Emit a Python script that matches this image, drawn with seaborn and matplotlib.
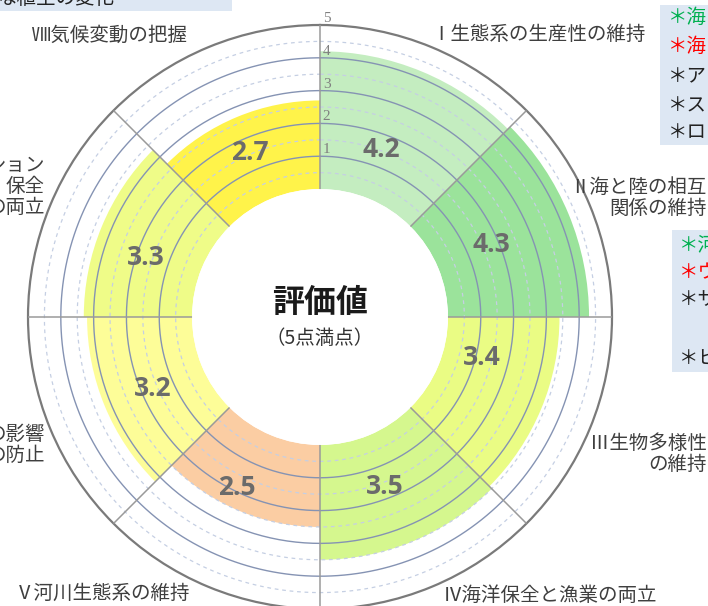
import numpy as np
import matplotlib
matplotlib.use("Agg")
import matplotlib.pyplot as plt
from matplotlib.patches import Rectangle
import seaborn as sns

# Dados do gráfico
categorias = ["Ⅰ", "Ⅱ", "Ⅲ", "Ⅳ", "Ⅴ", "Ⅵ", "Ⅶ", "Ⅷ"]
valores = [4.2, 4.3, 3.4, 3.5, 2.5, 3.2, 3.3, 2.7]
cores = ["#c4edc0", "#9be39b", "#eafc84", "#d5f78e",
         "#fbcda3", "#fdfd98", "#effc88", "#fff34a"]
nomes = ["Ⅰ生態系の生産性の維持", "Ⅱ海と陸の相互\n関係の維持", "Ⅲ生物多様性\nの維持",
         "Ⅳ海洋保全と漁業の両立", "Ⅴ河川生態系の維持", "の影響\nの防止",
         "ション\n保全\nの両立", "Ⅷ気候変動の把握"]
escala = [1, 2, 3, 4, 5]
caixa1 = ["＊海", "＊海", "＊ア", "＊ス", "＊ロ"]
caixa1_cores = ["#00b050", "#ff0000", "#222222", "#222222", "#222222"]
caixa2 = ["＊河", "＊ウ", "＊サ", "", "＊ヒ"]
caixa2_cores = ["#00b050", "#ff0000", "#222222", "#222222", "#222222"]

sns.set_theme(style="white")
plt.rcParams['font.family'] = ['Noto Sans CJK JP', 'DejaVu Sans']

W, H = 708, 606
fig = plt.figure(figsize=(W / 100, H / 100), dpi=100)


def px(x, y):
    return x / W, 1 - y / H


# Eixo polar (centro ~ (320, 317), raio ~ 292 px)
ax = fig.add_axes([28 / W, (H - 609) / H, 584 / W, 584 / H], projection="polar")
ax.set_theta_zero_location("N")
ax.set_theta_direction(-1)

n = len(valores)
theta = np.deg2rad(np.arange(n) * 360 / n + 180 / n)

sns.barplot(x=theta, y=valores, hue=categorias, palette=cores, saturation=1,
            native_scale=True, width=1.0, dodge=False, errorbar=None,
            legend=False, linewidth=0, ax=ax, zorder=1)

ax.set_ylim(0, 5)
ax.set_rorigin(-3.9)
ax.set_xticks([])
ax.set_yticks([])
ax.grid(False)
ax.set_xlabel("")
ax.set_ylabel("")
ax.spines["polar"].set_color("#7a7a7a")
ax.spines["polar"].set_linewidth(1.6)
# a espinha interna é religada no draw, então só some com cor 'none'
ax.spines["inner"].set_color("none")
ax.spines["inner"].set_linewidth(0)

# Círculos de grade
t = np.linspace(0, 2 * np.pi, 500)
for v in escala[:-1]:
    ax.plot(t, np.full_like(t, v), color="#8593b3", lw=1.0, zorder=2)
for v in np.arange(0.5, 5, 1.0):
    ax.plot(t, np.full_like(t, v), color="#c5cfe3", lw=0.9,
            ls=(0, (3, 3)), zorder=2)

# Raios
for a in np.deg2rad(np.arange(0, 360, 360 / n)):
    ax.plot([a, a], [0, 5], color="#9a9a9a", lw=1.1, zorder=3)

# Rótulos da escala
for v in escala:
    ax.annotate(str(v), xy=(0, v), xytext=(2, 0), textcoords="offset points",
                ha="left", va="bottom", fontsize=11, color="#808080",
                family=["Liberation Serif"], annotation_clip=False)

# Valores
lab_ang = [20, 67, 104, 159, 206, 247, 289, 337]
lab_r = [1.52, 1.77, 1.19, 1.65, 1.89, 1.65, 1.71, 1.55]
for a, r, v in zip(lab_ang, lab_r, valores):
    ax.text(np.deg2rad(a), r, f"{v:.1f}", ha="center", va="center",
            fontsize=19, fontweight="bold", color="#6b6b6b",
            family=["Open Sans", "DejaVu Sans"], zorder=5)

# Texto central
fig.text(*px(320, 303), "評価値", ha="center", va="center",
         fontsize=23, fontweight="bold", color="#1a1a1a")
fig.text(*px(320, 338), "（5点満点）", ha="center", va="center",
         fontsize=14, color="#333333")

# Nomes das categorias
pos_nomes = [(538, 35, "center"), (707, 198, "right"), (707, 454, "right"),
             (550, 595, "center"), (103, 593, "center"), (45, 445, "right"),
             (45, 186, "right"), (110, 35, "center")]
for (x, y, ha), txt in zip(pos_nomes, nomes):
    fig.text(*px(x, y), txt, ha=ha, va="center", multialignment=ha,
             fontsize=14, color="#3f3f3f", linespacing=1.0)

# Caixas à direita e no topo
fig.patches.append(Rectangle(px(660, 145), 60 / W, 140 / H, transform=fig.transFigure,
                             facecolor="#dde7f3", edgecolor="none", zorder=0))
fig.patches.append(Rectangle(px(672, 372), 50 / W, 142 / H, transform=fig.transFigure,
                             facecolor="#dde7f3", edgecolor="none", zorder=0))
fig.patches.append(Rectangle(px(0, 11), 232 / W, 20 / H, transform=fig.transFigure,
                             facecolor="#dde7f3", edgecolor="none", zorder=0))

for y, txt, c in zip([17, 46, 77, 106, 133], caixa1, caixa1_cores):
    fig.text(*px(668, y), txt, ha="left", va="center", fontsize=14, color=c)
for y, txt, c in zip([245, 273, 300, 330, 358], caixa2, caixa2_cores):
    if txt:
        fig.text(*px(679, y), txt, ha="left", va="center", fontsize=14, color=c)

fig.text(*px(-3, -1), "な植生の変化", ha="left", va="center", fontsize=14, color="#222222")

fig.savefig("out.png", dpi=100)
